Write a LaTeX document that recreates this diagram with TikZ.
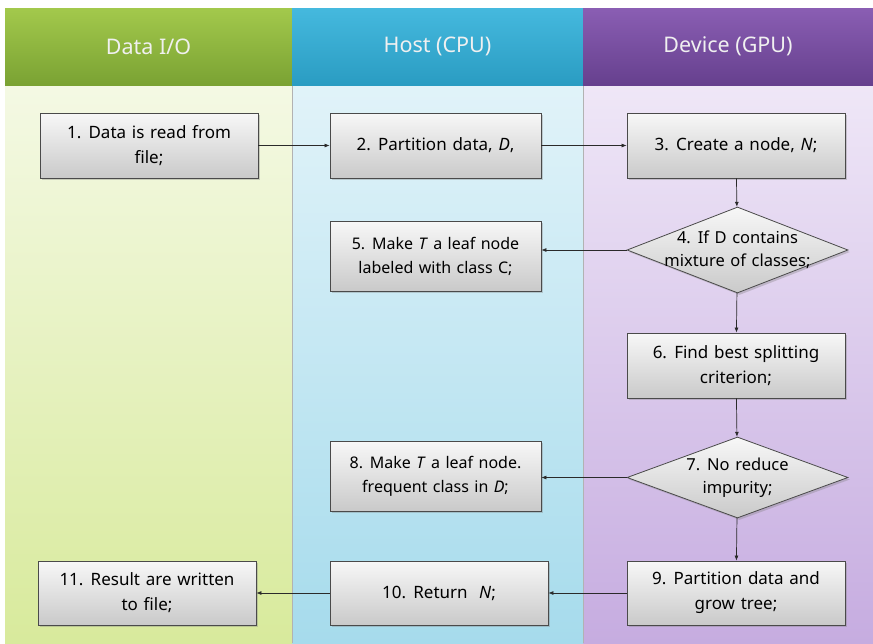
\documentclass[tikz,border=0pt]{standalone}
\usepackage{fontspec}
\setmainfont{Noto Sans}[WordSpace={1.3,1,1}]
\newfontfamily\hdrfont{Noto Sans}
\usetikzlibrary{shapes.geometric,arrows.meta,shadows}
\definecolor{hgA}{HTML}{A3C94C}\definecolor{hgB}{HTML}{7AA233}
\definecolor{hbA}{HTML}{45B9DE}\definecolor{hbB}{HTML}{2A9CC2}
\definecolor{hpA}{HTML}{8A5EB3}\definecolor{hpB}{HTML}{66408E}
\definecolor{bgA}{HTML}{F4F9E4}\definecolor{bgB}{HTML}{D8EA9C}
\definecolor{bbA}{HTML}{E1F3F9}\definecolor{bbB}{HTML}{A6DBEC}
\definecolor{bpA}{HTML}{EFE7F7}\definecolor{bpB}{HTML}{C6ACE0}
\definecolor{edge}{HTML}{4A4A4A}
\definecolor{arr}{HTML}{2A2A2A}
\begin{document}
\begin{tikzpicture}[x=1pt,y=-1pt,
  hdr/.style={minimum width=287pt,minimum height=77pt,inner sep=0pt,text=white!94!black,
    font=\hdrfont\fontsize{21.5}{26}\selectfont},
  box/.style={draw=edge,line width=0.8pt,top color=gray!6,bottom color=gray!42,
    minimum height=65pt,inner sep=2pt,align=center,
    drop shadow={shadow xshift=2pt,shadow yshift=-2pt,opacity=0.35},
    font=\fontsize{17}{25}\selectfont},
  dia/.style={diamond,draw=edge,line width=0.8pt,top color=gray!6,bottom color=gray!42,
    inner sep=0pt,minimum width=221pt,
    drop shadow={shadow xshift=2pt,shadow yshift=-2pt,opacity=0.35}},
  dtxt/.style={align=center,font=\fontsize{16.5}{23}\selectfont},
  small/.style={font=\fontsize{16}{24}\selectfont},
  link/.style={draw=arr,line width=0.7pt,-{Latex[length=5pt,width=4pt]}}]
\useasboundingbox (0,0) rectangle (873,643);
% lane bodies
\shade[top color=bgA,bottom color=bgB] (5,85) rectangle (292,643);
\shade[top color=bbA,bottom color=bbB] (292,85) rectangle (583,643);
\shade[top color=bpA,bottom color=bpB] (583,85) rectangle (873,643);
\draw[gray!60,line width=0.6pt] (292,85) -- (292,643) (583,85) -- (583,643);
% headers
\node[hdr,top color=hgA,bottom color=hgB,minimum width=287pt] (h1) at (148.5,46.5) {Data I/O};
\node[hdr,top color=hbA,bottom color=hbB,minimum width=291pt] (h2) at (437.5,46.5) {Host (CPU)};
\node[hdr,top color=hpA,bottom color=hpB,minimum width=290pt] (h3) at (728,46.5) {Device (GPU)};
% nodes
\node[box,minimum width=218pt] (b1) at (149,145.5) {1. Data is read from\\file;};
\node[box,minimum width=211pt] (b2) at (435.5,145.5) {2. Partition data, \textit{D},};
\node[box,minimum width=218pt] (b3) at (736,145.5) {3. Create a node, \textit{N};};
\node[dia,minimum height=86pt,label={[dtxt]center:4. If D contains\\mixture of classes;}] (d4) at (737.5,250) {};
\node[box,small,minimum width=211pt,minimum height=70pt] (b5) at (435.5,256) {5. Make \textit{T} a leaf node\\labeled with class C;};
\node[box,minimum width=218pt] (b6) at (736,365.5) {6. Find best splitting\\criterion;};
\node[dia,minimum height=81pt,label={[dtxt]center:7. No reduce\\impurity;}] (d7) at (737.5,477.5) {};
\node[box,small,minimum width=211pt,minimum height=70pt] (b8) at (435.5,476) {8. Make \textit{T} a leaf node.\\frequent class in \textit{D};};
\node[box,minimum width=218pt,minimum height=64pt] (b9) at (736,593) {9. Partition data and\\grow tree;};
\node[box,minimum width=218pt,minimum height=64pt] (b10) at (439,593) {10. Return \ \textit{N};};
\node[box,minimum width=218pt,minimum height=64pt] (b11) at (147,593) {11. Result are written\\to file;};
% connectors
\draw[link] (b1) -- (b2);
\draw[link] (b2) -- (b3);
\draw[link] (b3) -- (d4);
\draw[link] (d4.west) -- (d4.west -| b5.east);
\draw[link] (d4) -- (b6);
\draw[link] (b6) -- (d7);
\draw[link] (d7.west) -- (d7.west -| b8.east);
\draw[link] (d7) -- (b9);
\draw[link] (b9) -- (b10);
\draw[link] (b10) -- (b11);
\end{tikzpicture}
\end{document}
